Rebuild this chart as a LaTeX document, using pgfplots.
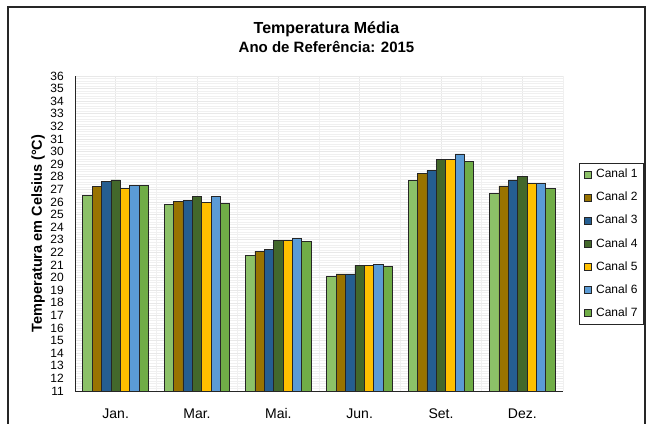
\documentclass[border=0pt]{standalone}
\usepackage{pgfplots}
\usepackage{pgfplotstable}
\pgfplotsset{compat=1.18}
\usepackage{fontspec}
\setmainfont{Liberation Sans}
\definecolor{c1}{HTML}{8CC168}
\definecolor{c2}{HTML}{997300}
\definecolor{c3}{HTML}{255E91}
\definecolor{c4}{HTML}{43682B}
\definecolor{c5}{HTML}{FFC000}
\definecolor{c6}{HTML}{5B9BD5}
\definecolor{c7}{HTML}{70AD47}
\pgfplotstableread{
x  a     b     c     d     e     f     g
0  26.50 27.20 27.60 27.75 27.10 27.30 27.30
1  25.84 26.05 26.10 26.45 25.98 26.45 25.90
2  21.77 22.10 22.20 22.98 22.98 23.09 22.88
3  20.07 20.29 20.29 20.97 20.95 21.02 20.87
4  27.69 28.30 28.51 29.41 29.41 29.81 29.25
5  26.69 27.27 27.75 28.00 27.50 27.50 27.10
}\datatable
\begin{document}
\begin{tikzpicture}
\begin{scope}[shift={(-75pt,391pt)}, x=1pt, y=-1pt]
\useasboundingbox (0,0) rectangle (647,423);
\draw[line width=1.3pt, black!85] (8,430) -- (8,7) -- (645,7) -- (645,430);
\node[font=\fontsize{16}{18}\selectfont\bfseries] at (326.5,29) {Temperatura Média};
\node[font=\fontsize{15}{18}\selectfont\bfseries] at (326.5,47) {Ano de Referência: 2015};
\end{scope}
\begin{axis}[
  at={(0pt,0pt)}, anchor=south west,
  scale only axis, width=488pt, height=315pt,
  ybar=0pt, bar width=9.37pt,
  xmin=-0.5, xmax=5.5, ymin=11, ymax=36,
  xtick={0,...,5}, xticklabels={Jan.,Mar.,Mai.,Jun.,Set.,Dez.},
  minor xtick={-0.5,0.5,...,5.5},
  ytick={11,...,36},
  minor y tick num=4,
  xmajorgrids, xminorgrids, ymajorgrids, yminorgrids,
  major grid style={gray!18, line width=0.6pt},
  minor grid style={gray!12, line width=0.6pt},
  axis x line*=bottom, axis y line*=left,
  axis line style={black!85, line width=0.9pt, -},
  tick style={draw=none},
  yticklabel style={font=\fontsize{12}{13}\selectfont, inner sep=0pt, xshift=-11pt},
  xticklabel style={font=\fontsize{14}{15}\selectfont, inner sep=0pt, yshift=-13pt, text height=10pt, text depth=0pt},
  /pgf/number format/assume math mode=true,
  ylabel={Temperatura em Celsius (°C)},
  ylabel style={font=\fontsize{14.5}{16}\selectfont\bfseries, at={(axis description cs:-0.0758,0.5)}, anchor=center},
  every axis plot/.append style={draw=black!85, line width=0.8pt},
  legend style={at={(axis description cs:1.0328,0.7238)}, anchor=north west,
    draw=black!85, line width=0.8pt, font=\fontsize{12}{13}\selectfont,
    row sep=9.8pt, inner sep=4.5pt,
    nodes={text height=8.8pt, text depth=2.5pt, inner sep=1pt},
    /tikz/every odd column/.append style={column sep=3.5pt}},
  legend cell align=left,
  legend image code/.code={\draw[#1, line width=0.7pt] (0pt,-3.5pt) rectangle (7pt,3.5pt);},
]
\addplot[fill=c1] table[x=x,y=a] {\datatable};
\addplot[fill=c2] table[x=x,y=b] {\datatable};
\addplot[fill=c3] table[x=x,y=c] {\datatable};
\addplot[fill=c4] table[x=x,y=d] {\datatable};
\addplot[fill=c5] table[x=x,y=e] {\datatable};
\addplot[fill=c6] table[x=x,y=f] {\datatable};
\addplot[fill=c7] table[x=x,y=g] {\datatable};
\legend{Canal 1,Canal 2,Canal 3,Canal 4,Canal 5,Canal 6,Canal 7}
\end{axis}
\end{tikzpicture}
\end{document}
